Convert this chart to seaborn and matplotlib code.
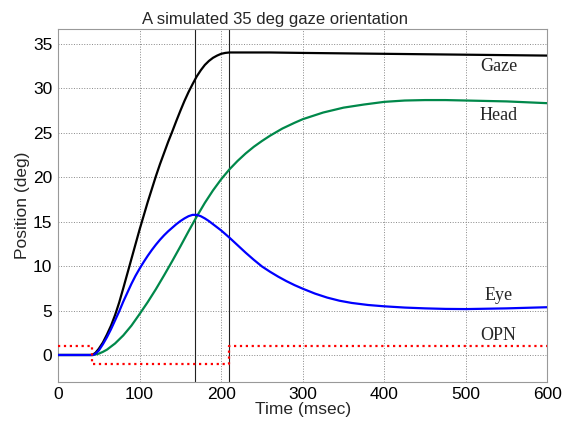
import numpy as np
import pandas as pd
import matplotlib
matplotlib.use('Agg')
import matplotlib.pyplot as plt
import seaborn as sns

# Time samples (msec) and positions (deg)
t_gaze = [0, 42, 46, 50, 55, 60, 65, 70, 75, 80, 90, 100, 110, 120, 125, 130, 135, 140,
          145, 150, 155, 160, 165, 170, 175, 180, 185, 190, 195, 200, 205, 210, 230,
          260, 300, 350, 400, 450, 500, 550, 600]
gaze = [0, 0, 0.25, 0.7, 1.4, 2.3, 3.3, 4.5, 5.9, 7.5, 10.8, 14.1, 17.2, 20.1, 21.45,
        22.7, 23.95, 25.1, 26.3, 27.45, 28.55, 29.55, 30.45, 31.3, 32.0, 32.6, 33.05,
        33.4, 33.65, 33.85, 33.95, 34.0, 34.0, 34.0, 33.95, 33.9, 33.85, 33.8, 33.75,
        33.7, 33.65]

t_eye = [0, 43, 46, 50, 55, 60, 65, 70, 75, 80, 85, 90, 95, 100, 105, 110, 115, 120,
         125, 130, 135, 140, 145, 150, 155, 160, 165, 170, 175, 180, 185, 190, 195, 200,
         205, 210, 220, 230, 240, 250, 260, 270, 280, 290, 300, 315, 330, 345, 360, 380,
         400, 425, 450, 475, 500, 550, 600]
eye = [0, 0, 0.15, 0.5, 1.2, 2.0, 2.9, 3.9, 4.9, 6.0, 7.0, 8.0, 8.9, 9.7, 10.45, 11.15,
       11.8, 12.4, 12.95, 13.45, 13.9, 14.3, 14.7, 15.05, 15.35, 15.6, 15.75, 15.75,
       15.6, 15.35, 15.05, 14.7, 14.35, 14.0, 13.6, 13.2, 12.35, 11.5, 10.7, 9.95, 9.35,
       8.8, 8.3, 7.85, 7.45, 6.9, 6.45, 6.1, 5.85, 5.62, 5.47, 5.33, 5.24, 5.18, 5.16,
       5.24, 5.37]

t_head = [0, 43, 50, 55, 60, 65, 70, 80, 90, 100, 110, 120, 130, 140, 150, 160, 170,
          180, 190, 200, 210, 220, 230, 240, 250, 260, 275, 290, 300, 325, 350, 375,
          400, 425, 450, 475, 500, 550, 600]
head = [0, 0, 0.15, 0.35, 0.6, 0.95, 1.3, 2.2, 3.3, 4.6, 5.95, 7.4, 8.95, 10.55, 12.2,
        13.9, 15.55, 17.1, 18.5, 19.75, 20.85, 21.8, 22.65, 23.4, 24.05, 24.65, 25.45,
        26.1, 26.5, 27.25, 27.8, 28.15, 28.45, 28.6, 28.65, 28.65, 28.6, 28.5, 28.3]

# OPN (omnipause neuron) gate, step signal
t_opn = [0, 42, 42, 210, 210, 600]
opn = [1, 1, -1, -1, 1, 1]

# vertical markers and curve labels
marker_times = [168, 210]
labels = ['Gaze', 'Head', 'Eye', 'OPN']
label_y = [32.4, 26.9, 6.7, 2.2]
label_x = 540

colors = {'Gaze': 'black', 'Head': '#00884a', 'Eye': '#0000ff'}

sns.set_theme(style='white', rc={
    'axes.edgecolor': '#999999',
    'axes.linewidth': 0.8,
    'xtick.major.size': 0,
    'ytick.major.size': 0,
})
plt.rcParams['font.family'] = ['Liberation Sans', 'DejaVu Sans']

df = pd.concat([
    pd.DataFrame({'Time': t_gaze, 'Position': gaze, 'Signal': 'Gaze'}),
    pd.DataFrame({'Time': t_head, 'Position': head, 'Signal': 'Head'}),
    pd.DataFrame({'Time': t_eye, 'Position': eye, 'Signal': 'Eye'}),
], ignore_index=True)
df_opn = pd.DataFrame({'Time': t_opn, 'Position': opn})

fig = plt.figure(figsize=(5.76, 4.24), dpi=100)
ax = fig.add_axes([0.1007, 0.0998, 0.8498, 0.8310])

ax.grid(True, linestyle=':', color='#888888', linewidth=0.7)
ax.set_axisbelow(True)

for t in marker_times:
    ax.axvline(t, color='#222222', linewidth=0.8, zorder=1)

sns.lineplot(data=df, x='Time', y='Position', hue='Signal', palette=colors,
             estimator=None, linewidth=1.6, legend=False, ax=ax, zorder=3)
sns.lineplot(data=df_opn, x='Time', y='Position', estimator=None, sort=False,
             color='red', linestyle=':', linewidth=1.6, ax=ax, zorder=3)

for lab, y in zip(labels, label_y):
    ax.text(label_x, y, lab, ha='center', va='center', fontsize=13,
            family=['Liberation Serif', 'DejaVu Serif'])

ax.set_xlim(0, 600)
ax.set_ylim(-3, 36.6)
ax.set_xticks(np.arange(0, 601, 100))
ax.set_yticks(np.arange(0, 36, 5))
ax.tick_params(labelsize=12.5, colors='black', pad=4)
ax.set_xlabel('Time (msec)', fontsize=12.5, labelpad=0)
ax.set_ylabel('Position (deg)', fontsize=12.5, labelpad=2)
ax.set_title('A simulated 35 deg gaze orientation', fontsize=12, pad=4, x=0.443)

fig.savefig('out.png', dpi=100)
